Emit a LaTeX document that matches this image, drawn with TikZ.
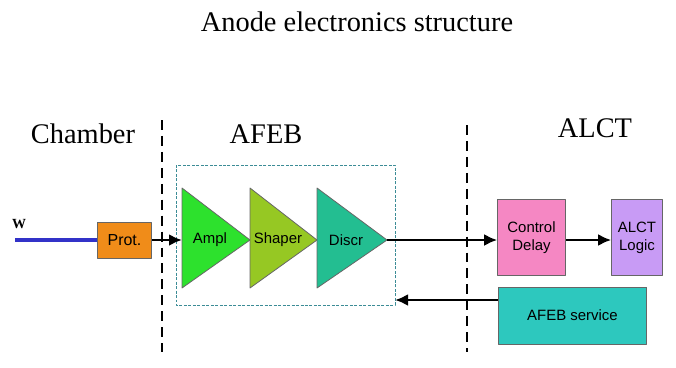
\documentclass[tikz,border=0pt]{standalone}
\usepackage{fontspec}
\setmainfont{Liberation Serif}
\newfontfamily\boxfont{Liberation Sans}
\usetikzlibrary{arrows,arrows.meta}

\definecolor{protorange}{RGB}{240,140,25}
\definecolor{amplgreen}{RGB}{45,225,45}
\definecolor{shapergreen}{RGB}{150,200,35}
\definecolor{discrteal}{RGB}{35,190,145}
\definecolor{ctrlpink}{RGB}{245,135,195}
\definecolor{logicviolet}{RGB}{200,155,245}
\definecolor{serviceteal}{RGB}{45,200,190}
\definecolor{wireblue}{RGB}{50,50,200}
\definecolor{afebline}{RGB}{60,140,150}

\tikzset{
  header/.style={font=\fontsize{28.5}{30}\selectfont},
  label/.style={font=\boxfont\fontsize{15}{18}\selectfont},
  block/.style={draw=black!60,line width=0.8pt,label,align=center,inner sep=0pt},
  amp/.style={draw=black!60,line width=0.8pt},
  sig/.style={-{Latex[length=13bp,width=12bp]},line width=2.6pt},
  border/.style={line width=2.8pt,dash pattern=on 10pt off 6pt}
}

\begin{document}
\begin{tikzpicture}[x=1bp,y=-1bp,line join=round]
\useasboundingbox (0,0) rectangle (676,367);

\node[header] (title) at (357,22) {Anode electronics structure};
\node[header] (chamber) at (83,134) {Chamber};
\node[header] (afeb) at (266,134) {AFEB};
\node[header] (alct) at (595,128) {ALCT};

\draw[border] (162,120) -- (162,352);
\draw[border] (467,125) -- (467,352);

% afeb board outline
\draw[afebline,line width=0.7pt,dash pattern=on 3pt off 1.5pt] (176,165) rectangle (395,305);

% input wire
\node[font=\bfseries\fontsize{14}{16}\selectfont] (w) at (19,224) {W};
\node[block,fill=protorange,minimum width=54,minimum height=36,font=\boxfont\fontsize{16}{18}\selectfont] (prot) at (124.5,240) {Prot.};
\coordinate (wire) at (15,240);
\draw[wireblue,line width=3.5pt] (wire) -- (prot.west);

% amplifier chain
\draw[amp,fill=amplgreen] (182,188) -- (250,240) -- (182,288) -- cycle;
\draw[amp,fill=shapergreen] (250,188) -- (317,240) -- (250,288) -- cycle;
\draw[amp,fill=discrteal] (317,188) -- (387,240) -- (317,288) -- cycle;
\coordinate (amplin) at (182,240);
\coordinate (discrout) at (387,240);
\node[label] (ampl) at (210,240) {Ampl};
\node[label] (shaper) at (278,240) {Shaper};
\node[label] (discr) at (346,240) {Discr};

% alct side
\node[block,fill=ctrlpink,minimum width=68,minimum height=76] (ctrl) at (531.5,237.5) {Control\\Delay};
\node[block,fill=logicviolet,minimum width=51,minimum height=76] (logic) at (637,237.5) {ALCT\\Logic};
\node[block,fill=serviceteal,minimum width=149,minimum height=57] (service) at (572.5,315.5) {AFEB service};
\coordinate (afebin) at (395,300);

\draw[sig] (prot.east) -- (amplin);
\draw[sig] (discrout) -- (ctrl.west |- discrout);
\draw[sig] (ctrl.east |- discrout) -- (logic.west |- discrout);
\draw[sig] (service.west |- afebin) -- (afebin);
\end{tikzpicture}
\end{document}
